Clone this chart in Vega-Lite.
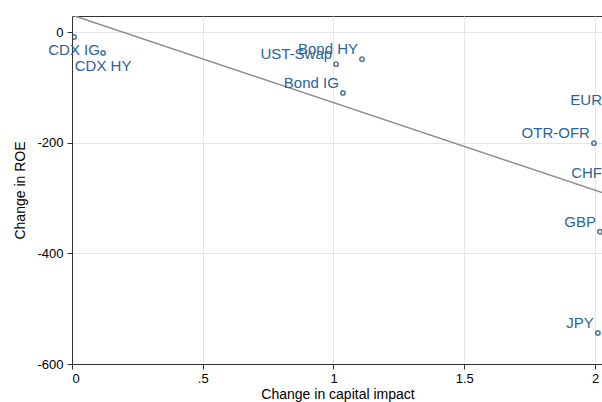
{
  "$schema": "https://vega.github.io/schema/vega-lite/v6.json",
  "autosize": {"type": "none"},
  "padding": {"left": 72, "top": 16, "right": 0, "bottom": 38},
  "width": 531,
  "height": 348,
  "background": "white",
  "config": {
    "font": "Liberation Sans",
    "view": {"stroke": "#333333", "strokeWidth": 1},
    "axis": {
      "domainColor": "#333333",
      "tickColor": "#333333",
      "gridColor": "#e6e6e6",
      "labelColor": "#000000",
      "titleColor": "#000000",
      "labelFont": "Liberation Sans",
      "titleFont": "Liberation Sans",
      "labelFontSize": 13,
      "titleFontSize": 14,
      "titleFontWeight": "normal",
      "tickSize": 5
    }
  },
  "datasets": {
    "pts": [
      {"name": "CDX IG", "x": 0.008, "y": -9, "pos": "below"},
      {"name": "CDX HY", "x": 0.119, "y": -38, "pos": "below"},
      {"name": "UST-Swap", "x": 1.01, "y": -58, "pos": "left"},
      {"name": "Bond HY", "x": 1.109, "y": -49, "pos": "left"},
      {"name": "Bond IG", "x": 1.036, "y": -110, "pos": "left"},
      {"name": "EUR", "x": 2.042, "y": -141, "pos": "left"},
      {"name": "OTR-OFR", "x": 1.996, "y": -201, "pos": "left"},
      {"name": "CHF", "x": 2.042, "y": -273, "pos": "left"},
      {"name": "GBP", "x": 2.019, "y": -361, "pos": "left"},
      {"name": "JPY", "x": 2.011, "y": -544, "pos": "left"}
    ],
    "fit": [
      {"x": 0.008, "y": 29.4},
      {"x": 2.042, "y": -292.5}
    ]
  },
  "layer": [
    {
      "data": {"name": "fit"},
      "mark": {"type": "line", "color": "#8c8c8c", "strokeWidth": 1.5, "clip": true},
      "encoding": {
        "x": {
          "field": "x", "type": "quantitative",
          "scale": {"domain": [0, 2.0306], "nice": false, "zero": false},
          "axis": {
            "title": "Change in capital impact",
            "values": [0, 0.5, 1, 1.5, 2],
            "labelExpr": "datum.value == 0.5 ? '.5' : datum.value == 1.5 ? '1.5' : '' + datum.value",
            "labelPadding": 3,
            "titlePadding": 2,
            "grid": true
          }
        },
        "y": {
          "field": "y", "type": "quantitative",
          "scale": {"domain": [-600, 29], "nice": false, "zero": false},
          "axis": {
            "title": "Change in ROE",
            "values": [-600, -400, -200, 0],
            "labelExpr": "'' + datum.value",
            "labelPadding": 4,
            "titlePadding": 9,
            "grid": true
          }
        }
      }
    },
    {
      "data": {"name": "pts"},
      "mark": {"type": "point", "shape": "circle", "filled": false, "size": 18, "strokeWidth": 1.7, "color": "#1a4a7a", "clip": true},
      "encoding": {
        "x": {"field": "x", "type": "quantitative"},
        "y": {"field": "y", "type": "quantitative"}
      }
    },
    {
      "data": {"name": "pts"},
      "transform": [{"filter": "datum.pos == 'left'"}],
      "mark": {"type": "text", "align": "right", "baseline": "middle", "dx": -4, "dy": -10, "fontSize": 15, "color": "#2a6499", "font": "Liberation Sans"},
      "encoding": {
        "x": {"field": "x", "type": "quantitative"},
        "y": {"field": "y", "type": "quantitative"},
        "text": {"field": "name"}
      }
    },
    {
      "data": {"name": "pts"},
      "transform": [{"filter": "datum.pos == 'below'"}],
      "mark": {"type": "text", "align": "center", "baseline": "middle", "dy": 13, "fontSize": 15, "color": "#2a6499", "font": "Liberation Sans"},
      "encoding": {
        "x": {"field": "x", "type": "quantitative"},
        "y": {"field": "y", "type": "quantitative"},
        "text": {"field": "name"}
      }
    }
  ]
}
